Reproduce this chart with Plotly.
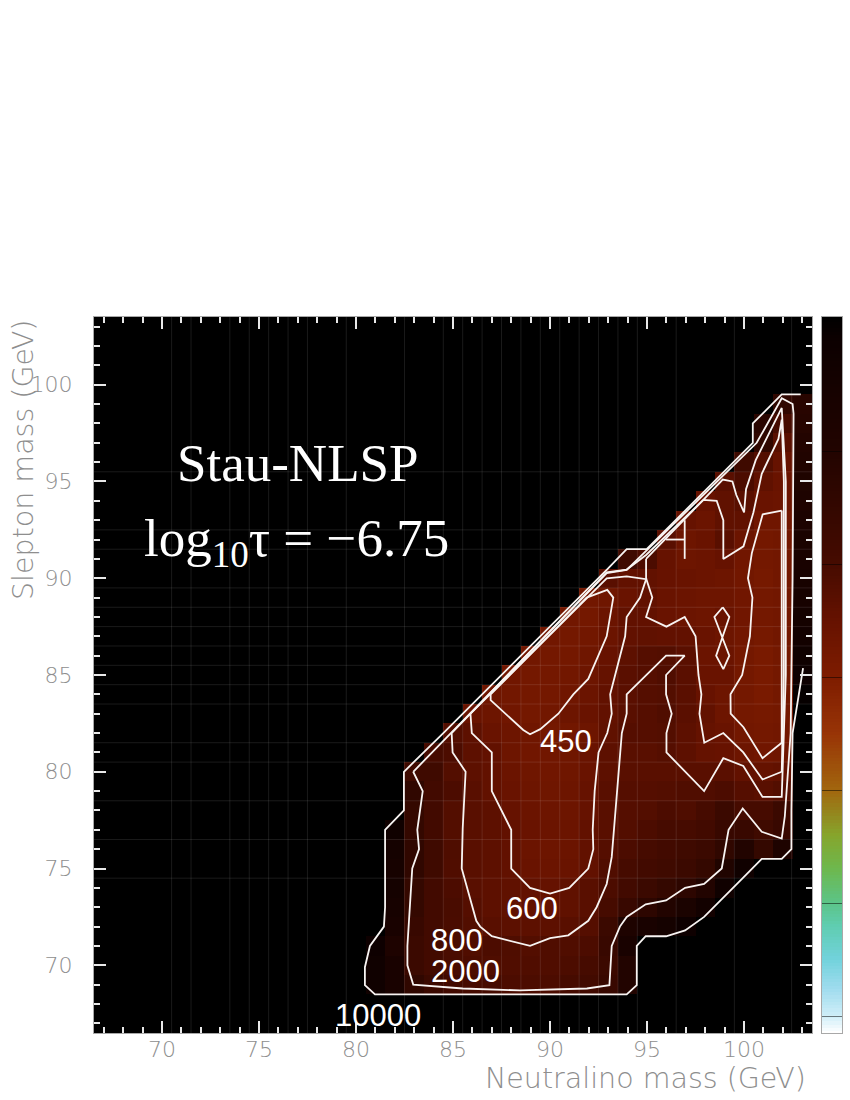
import plotly.graph_objects as go

# log10(exposure) per cell: first x of the row, then values along x
rows = {
 69: (81, [3.9,3.7,3.3,3.15,3.05,3.0,3.0,2.95,2.95,2.95,3.0,3.05,3.2,3.5]),
 70: (81, [3.9,3.7,3.15,3.05,2.98,2.95,2.93,2.92,2.92,2.92,2.95,3.0,3.15,3.5]),
 71: (81, [3.95,3.6,3.15,3.05,2.97,2.92,2.95,2.93,2.9,2.92,2.92,2.95,3.2,3.7]),
 72: (82, [3.7,3.2,3.05,2.97,2.91,2.85,2.83,2.82,2.82,2.85,2.88,3.15,3.6,3.7,3.8,3.95]),
 73: (82, [3.75,3.25,3.05,2.98,2.88,2.82,2.8,2.78,2.76,2.8,2.85,3.0,3.2,3.35,3.5,3.65,3.85]),
 74: (82, [3.8,3.25,3.05,2.95,2.85,2.82,2.8,2.78,2.76,2.8,2.85,2.95,3.05,3.15,3.25,3.35,3.5,3.9]),
 75: (82, [3.75,3.3,3.1,2.92,2.85,2.82,2.78,2.72,2.7,2.72,2.78,2.92,3.0,3.05,3.1,3.15,3.25,3.55,3.9]),
 76: (82, [3.8,3.3,3.1,2.93,2.85,2.82,2.78,2.7,2.68,2.7,2.78,2.88,2.95,3.0,3.05,3.1,3.15,3.3,3.5,3.25,3.6]),
 77: (82, [3.9,3.25,3.05,2.9,2.85,2.82,2.78,2.72,2.7,2.7,2.78,2.85,2.9,2.95,3.0,3.0,3.05,3.2,3.2,3.1,3.2]),
 78: (83, [3.25,3.05,2.9,2.85,2.82,2.75,2.7,2.68,2.68,2.75,2.85,2.88,2.9,2.95,2.93,3.0,3.15,3.0,3.0,3.15]),
 79: (83, [3.3,3.05,2.95,2.85,2.78,2.72,2.68,2.66,2.68,2.75,2.85,2.88,2.88,2.9,2.92,2.92,2.95,2.88,2.85,2.9]),
 80: (83, [3.1,3.1,2.9,2.82,2.78,2.7,2.66,2.64,2.66,2.72,2.82,2.85,2.85,2.85,2.85,2.85,2.84,2.78,2.76,2.78]),
 81: (84, [3.0,2.95,2.82,2.78,2.68,2.64,2.64,2.66,2.72,2.82,2.85,2.85,2.88,2.82,2.76,2.74,2.68,2.64,2.66]),
 82: (85, [2.9,2.82,2.72,2.68,2.65,2.6,2.62,2.68,2.8,2.88,2.88,2.9,2.82,2.76,2.72,2.62,2.6,2.62]),
 83: (86, [2.72,2.68,2.64,2.6,2.63,2.68,2.72,2.78,2.85,2.88,2.92,2.84,2.78,2.68,2.6,2.58,2.6]),
 84: (87, [2.66,2.62,2.6,2.6,2.65,2.7,2.78,2.84,2.88,2.9,2.84,2.74,2.68,2.6,2.55,2.6,4.05]),
 85: (88, [2.64,2.6,2.6,2.62,2.68,2.76,2.84,2.88,2.92,2.84,2.72,2.72,2.6,2.55,2.6,3.95]),
 86: (89, [2.62,2.6,2.6,2.66,2.74,2.82,2.88,2.9,2.84,2.7,2.7,2.6,2.55,2.6,3.9]),
 87: (90, [2.62,2.6,2.62,2.7,2.78,2.8,2.78,2.78,2.72,2.68,2.62,2.58,2.62,3.85]),
 88: (91, [2.62,2.6,2.7,2.78,2.78,2.72,2.7,2.68,2.72,2.64,2.6,2.62,3.8]),
 89: (92, [2.62,2.66,2.72,2.78,2.72,2.7,2.68,2.68,2.64,2.6,2.62,3.75]),
 90: (93, [2.85,2.78,2.78,2.74,2.72,2.7,2.68,2.62,2.58,2.62,3.72]),
 91: (94, [3.1,2.95,2.75,2.68,2.7,2.75,2.64,2.6,2.62,3.7]),
 92: (96, [2.85,2.68,2.72,2.85,2.7,2.6,2.62,3.68]),
 93: (97, [2.75,2.7,2.8,2.8,2.65,2.65,3.64]),
 94: (98, [2.75,2.8,2.85,2.72,2.7,3.6]),
 95: (99, [2.85,2.95,2.8,2.72,3.56]),
 96: (100, [3.1,2.9,2.75,3.52]),
 97: (101, [3.3,2.85,3.48]),
 98: (101, [3.4,3.0,3.45]),
 99: (102, [3.3,3.42]),
}
x_cells = list(range(67, 104))
y_cells = list(range(67, 104))

# colour bar: level (log10) -> colour
scale_min, scale_max = 0.925, 4.097
colour_stops = [
 (0.925, "#ffffff"), (1.0, "#cfeef8"), (1.12, "#9fdcee"), (1.25, "#72d2dc"), (1.4, "#5fcdb0"),
 (1.5, "#5cc488"), (1.65, "#6db84e"), (1.8, "#86a52c"), (2.0, "#a2660e"), (2.25, "#983406"),
 (2.5, "#7e1c00"), (2.75, "#661200"), (3.0, "#460b00"), (3.5, "#220400"), (4.0, "#0c0000"), (4.097, "#000000"),
]
level_ticks = [1.0, 1.5, 2.0, 2.5, 3.0, 3.5]
bar_steps = 220

# contour polylines (x, y) in GeV
c10000 = [(103.04,85.36),(102.5,82),(102.44,78),(102.44,76),(101.94,75.5),(100.91,75.5),(99.93,74.5),(98.93,73.5),(97.94,72.5),
          (96.96,71.8),(95.98,71.5),(94.93,71.5),(94.47,71),(94.47,68.97),(93.95,68.5),(80.98,68.5),(80.46,68.97),(80.46,69.9),
          (80.72,71),(81.44,72),(81.5,73),(81.5,77),(82.47,78),(82.47,80),(84.5,82),(92.92,90.43),(93.95,91.5),(94.98,91.5),
          (100.45,97),(100.45,98),(101.94,99.5),(102.92,99.5)]
c2000 = [(82.95,80),(83.44,79),(83.16,77),(83.25,76),(82.9,75),(82.65,71),(82.65,70),(82.95,69),(85.5,68.8),(88.45,68.7),(91.9,68.8),
         (93.06,68.97),(93.18,71),(93.6,72),(93.95,72.5),(94.93,73.15),(95.98,73.35),(96.96,74),(97.94,74.2),(98.85,75),(99.2,77),
         (99.93,78.1),(100.91,76.9),(101.94,76.55),(102.1,77.7),(102.4,82),(102.5,90),(102.55,98.5),(102.5,99),(101.94,99.3),
         (100.65,97),(94.98,91.4),(93.95,90.43),(92.92,90.26),(82.95,80)]
c800 = [(84.93,82),(84.98,81),(85.65,80),(85.5,77.07),(85.45,75),(86.2,72.3),(86.4,72),(87,71.5),(88.97,71),(90,71.4),(90.94,71.55),
        (91.97,72.3),(92.4,73),(92.92,74.2),(93.18,75.6),(93.4,78.5),(93.7,82),(93.95,83),(93.95,84),(95.98,86),(96.94,86),(95.98,85),
        (95.98,84),(96.27,83),(96,82),(96,81),(97.94,79),(98.93,80.7),(99.96,80.3),(100.95,78.7),(101.94,78.7),(102.15,85),(102.15,95),
        (101.94,98.8),(100.6,96.1),(100.1,94.6),(100,93.4),(99.6,94.3),(99.4,95),(98.9,95.1),(97.9,94.05),(94.95,91.2),(93.95,90.45),
        (92.92,90.3),(84.93,82)]
c600 = [(85.9,83),(85.97,82),(87,81),(87,79),(88,77),(88,75),(88.97,74),(90,73.7),(90.99,74),(91.97,75),(92.23,76),(92.2,77),(92.3,79),
        (92.5,81),(92.95,82),(93.18,83),(93.1,84),(93.87,87),(93.95,88),(94.64,89),(94.95,89.95),(93.95,90.1),(92.92,90),(85.9,83),None,
        (94.95,91),(94.95,90),(95.27,89),(94.95,88),(96,87.5),(96.94,88),(97.5,87),(97.65,85),(97.8,84),(97.7,83),(97.95,81.5),(98.93,82),
        (99.96,81),(100.95,79.6),(101.94,80),(102.05,85),(102.05,95),(101.94,98.2),(101.77,97.2),(100.91,95.4),(100.48,93.4),(99.97,91.65),
        (98.93,91),(98.93,93),(98.59,94),(97.9,94.05),(94.95,91)]
c450 = [(86.94,84),(86.94,83.7),(88.62,82.16),(88.97,81.94),(89.5,82.2),(90.43,83),(91.2,84),(91.97,84.8),(92.92,87),(93.26,89),(92.95,89.4),
        (91.89,89),(86.94,84),None,
        (101.94,93.5),(100.96,93.3),(100.4,91.3),(100.2,90),(100.43,89),(100.3,87),(99.9,85),(99.3,84),(99.31,83),(99.97,82.3),(100.95,80.7),
        (101.94,81.5),(101.94,93.5),None,
        (98.9,88.5),(98.47,88),(99.24,86),(98.93,85.3),(98.56,86),(99.24,88),(98.9,88.5),None,
        (95.98,92),(96.94,92),None,(96.94,93),(96.94,91)]
contours = [c10000, c2000, c800, c600, c450]

# faint cell-edge lines
grid_x = [70.5,71.5,73.5,74.5,75.5,76.5,77.5,79.5,82.5,84.5,85.5,86.5,87.5,88.5,89.5,90.5,91.5,92.5,93.5,94.5,96.5,99.5,102.45]
grid_y = [74.5,76.5,78.5,80.5,81.5,83.5,84.5,85.5,86.5,87.5,88.5,89.5,91.5,92.5,95.5]

# on-chart labels: text, x, y (GeV)
contour_labels = [("450",90.8,81.55),("600",89.05,72.95),("800",85.2,71.3),("2000",85.65,69.7),("10000",81.15,67.4)]
x_ticks = [70,75,80,85,90,95,100]
y_ticks = [70,75,80,85,90,95,100]
axis_range = [66.5,103.5]

z = [[None]*len(x_cells) for _ in y_cells]
for yv,(x0,vals) in rows.items():
    for i,v in enumerate(vals):
        z[y_cells.index(yv)][x_cells.index(x0+i)] = v

cs = [[(v-scale_min)/(scale_max-scale_min),c] for v,c in colour_stops]

fig = go.Figure()
fig.add_trace(go.Heatmap(x=x_cells,y=y_cells,z=z,zmin=scale_min,zmax=scale_max,colorscale=cs,hoverongaps=False,showscale=False))
gx,gy=[],[]
for v in grid_x:
    gx+=[v,v,None]; gy+=axis_range+[None]
for v in grid_y:
    gx+=axis_range+[None]; gy+=[v,v,None]
fig.add_trace(go.Scatter(x=gx,y=gy,mode="lines",line=dict(color="rgba(255,255,255,0.10)",width=1),hoverinfo="skip",showlegend=False))
for c in contours:
    fig.add_trace(go.Scatter(x=[p[0] if p else None for p in c],y=[p[1] if p else None for p in c],mode="lines",
                             line=dict(color="#f8f4f2",width=1.8),showlegend=False))

# the colour bar as its own small axes
bar_levels = [scale_min+(scale_max-scale_min)*i/bar_steps for i in range(bar_steps+1)]
fig.add_trace(go.Heatmap(x=[0],y=bar_levels,z=[[v] for v in bar_levels],zmin=scale_min,zmax=scale_max,colorscale=cs,showscale=False,
                         xaxis="x2",yaxis="y2",hoverinfo="skip"))

thin_family = "DejaVu Sans Light, DejaVu Sans ExtraLight, DejaVu Sans"
thin = dict(family=thin_family,size=22,color="#8e8e8e",weight=200)
common = dict(range=axis_range,showgrid=False,zeroline=False,showline=True,linecolor="#a8a8a8",linewidth=1,mirror="ticks",
              ticks="inside",ticklen=12,tickwidth=1.5,tickcolor="#e8e8e8",tickmode="array",tickfont=thin,
              minor=dict(dtick=1,ticks="inside",ticklen=6,tickwidth=1.5,tickcolor="#e8e8e8",showgrid=False),layer="above traces")
fig.update_layout(
    xaxis=dict(domain=[94/850,812/850],tickvals=x_ticks,ticklabelstandoff=-3,**common),
    yaxis=dict(domain=[(1100-1033)/1100,(1100-317)/1100],tickvals=y_ticks,ticklabelstandoff=16,**common),
    xaxis2=dict(domain=[822/850,842/850],range=[-0.5,0.5],showticklabels=False,ticks="",showgrid=False,zeroline=False,showline=True,
                linecolor="#a8a8a8",linewidth=1,mirror=True,anchor="y2"),
    yaxis2=dict(domain=[(1100-1033)/1100,(1100-317)/1100],range=[scale_min,scale_max],showticklabels=False,showgrid=False,zeroline=False,
                showline=True,linecolor="#a8a8a8",linewidth=1,mirror=True,anchor="x2",tickmode="array",tickvals=level_ticks,
                ticks="inside",ticklen=20,tickwidth=1,tickcolor="rgba(0,0,0,0.5)",layer="above traces"),
)

ann=[]
for t,xv,yv in contour_labels:
    ann.append(dict(x=xv,y=yv,xref="x",yref="y",text=t,showarrow=False,xanchor="center",yanchor="middle",
                    font=dict(family="Liberation Sans",size=31,color="white")))
serif=dict(family="Liberation Serif",size=53,color="white")
ann.append(dict(x=297/850,y=1-463/1100,xref="paper",yref="paper",text="Stau-NLSP",showarrow=False,font=serif,xanchor="center",yanchor="middle"))
ann.append(dict(x=296/850,y=1-542/1100,xref="paper",yref="paper",text="log<sub>10</sub>τ = −6.75",showarrow=False,font=serif,xanchor="center",yanchor="middle"))
title_font=dict(family=thin_family,size=28.5,color="#8e8e8e",weight=200)
ann.append(dict(x=808/850,y=1-1078/1100,xref="paper",yref="paper",text="Neutralino mass (GeV)",showarrow=False,xanchor="right",yanchor="middle",font=title_font))
ann.append(dict(x=23/850,y=1-460/1100,xref="paper",yref="paper",text="Slepton mass (GeV)",showarrow=False,textangle=-90,xanchor="center",yanchor="middle",font=title_font))
fig.update_layout(width=850,height=1100,autosize=False,margin=dict(l=0,r=0,t=0,b=0),paper_bgcolor="white",plot_bgcolor="black",annotations=ann,showlegend=False)
fig.write_html("out.html",config=dict(displayModeBar=False),post_script="document.body.style.margin='0';")
